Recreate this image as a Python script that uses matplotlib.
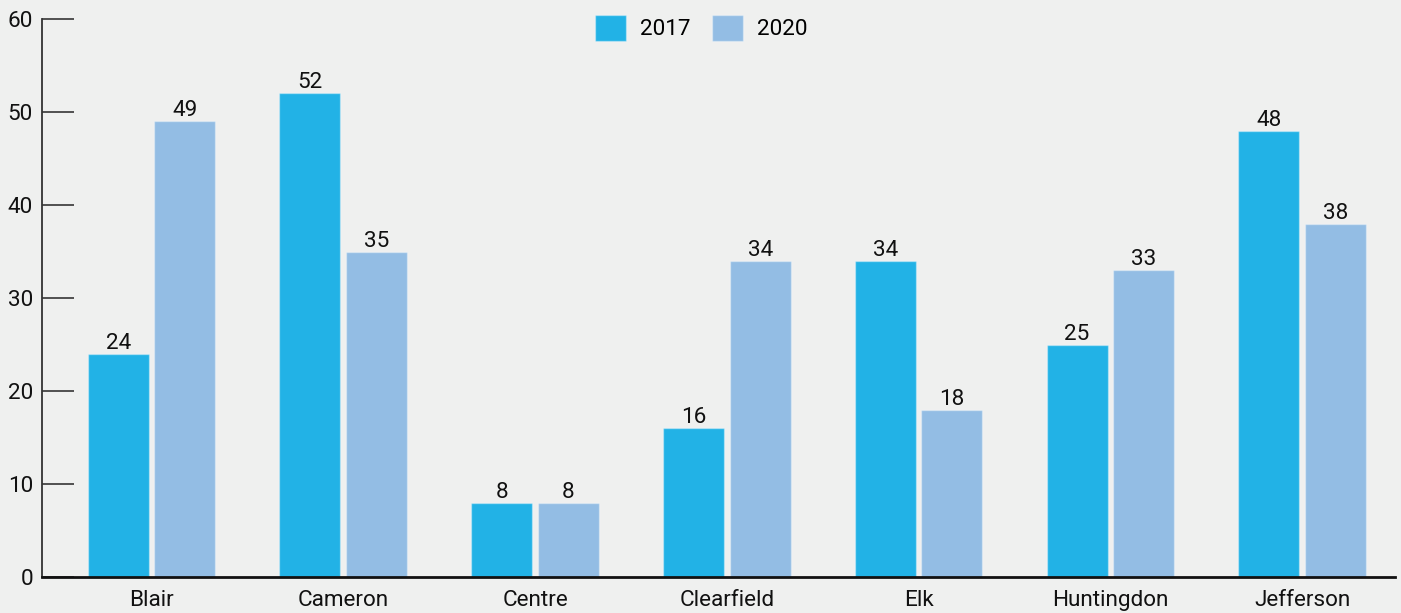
import matplotlib
matplotlib.use("Agg")
import matplotlib.pyplot as plt
import numpy as np

plt.rcParams['font.family'] = ['Roboto', 'DejaVu Sans']

counties = ["Blair", "Cameron", "Centre", "Clearfield", "Elk", "Huntingdon", "Jefferson"]
vals_2017 = [24, 52, 8, 16, 34, 25, 48]
vals_2020 = [49, 35, 8, 34, 18, 33, 38]
years = ["2017", "2020"]
yticks = [0, 10, 20, 30, 40, 50, 60]

bg = "#eff0ef"
c17 = "#22b2e6"
c20 = "#93bde4"
fs = 16.2

fig = plt.figure(figsize=(14.01, 6.13), dpi=100, facecolor=bg)
ax = fig.add_axes([0.030, 0.0587, 0.9657, 0.9103], facecolor=bg)

x = np.arange(len(counties))
w = 0.318
off = 0.174
b1 = ax.bar(x - off, vals_2017, w, color=c17, edgecolor=(1, 1, 1, 0.35), linewidth=1, label=years[0])
b2 = ax.bar(x + off, vals_2020, w, color=c20, edgecolor=(1, 1, 1, 0.35), linewidth=1, label=years[1])

for bars in (b1, b2):
    for b in bars:
        ax.annotate(str(int(b.get_height())), (b.get_x() + b.get_width() / 2, b.get_height()),
                    xytext=(0, 0), textcoords="offset points", ha="center", va="bottom",
                    fontsize=fs, color="#111111")

ax.set_xlim(-0.571, 6.484)
ax.set_ylim(0, 60)
ax.set_yticks(yticks)
ax.set_xticks(x)
ax.set_xticklabels(counties)

ax.tick_params(axis="y", direction="in", length=23, width=1.3, color="#444444",
               labelsize=fs, labelcolor="#111111")
ax.tick_params(axis="x", length=0, labelsize=fs, pad=9, labelcolor="#111111")
ax.yaxis.set_tick_params(pad=6.5)

for s in ["top", "right"]:
    ax.spines[s].set_visible(False)
ax.spines["left"].set_color("#333333")
ax.spines["left"].set_linewidth(1.3)
ax.spines["bottom"].set_color("#111111")
ax.spines["bottom"].set_linewidth(2)

leg = ax.legend(loc="upper center", bbox_to_anchor=(0.487, 1.043), ncol=2, frameon=False,
                fontsize=fs, handlelength=1.4, handleheight=1.35, columnspacing=0.95,
                handletextpad=0.6)

fig.savefig("out.png", dpi=100, facecolor=bg)
